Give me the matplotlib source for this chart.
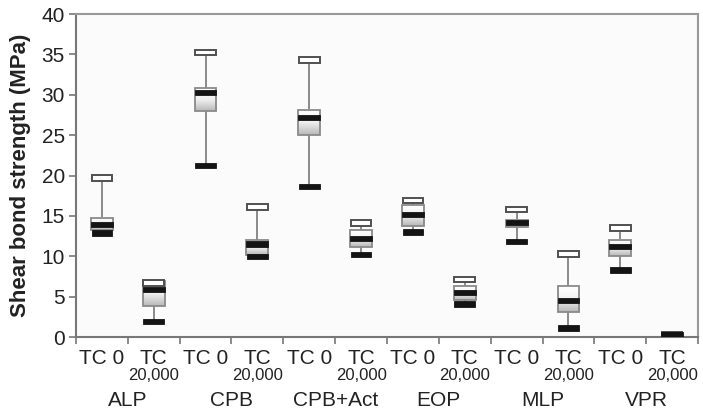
import numpy as np
import matplotlib
matplotlib.use("Agg")
import matplotlib.pyplot as plt
from matplotlib.patches import Rectangle
from matplotlib.colors import LinearSegmentedColormap

plt.rcParams['font.family'] = ['Liberation Sans', 'DejaVu Sans']

groups = ["ALP", "CPB", "CPB+Act", "EOP", "MLP", "VPR"]
cond_top = ["TC 0", "TC"]
cond_sub = ["", "20,000"]

maxima = [19.7, 6.7, 35.2, 16.1, 34.3, 14.1, 16.9, 7.1, 15.8, 10.3, 13.5, 0.3]
q3     = [14.8, 6.9, 30.8, 12.0, 28.1, 13.2, 16.4, 6.3, 14.5, 6.3, 12.0, 0.3]
median = [13.9, 5.9, 30.3, 11.5, 27.2, 12.2, 15.2, 5.5, 14.2, 4.5, 11.2, 0.3]
q1     = [13.3, 3.9, 28.0, 10.2, 25.0, 11.1, 13.8, 4.6, 13.6, 3.1, 10.0, 0.3]
minima = [12.9, 1.9, 21.2, 10.0, 18.6, 10.2, 13.0, 4.1, 11.8, 1.1, 8.3, 0.3]

yticks = [0, 5, 10, 15, 20, 25, 30, 35, 40]

fig = plt.figure(figsize=(7.03, 4.12), dpi=100)
ax = fig.add_axes([0.108, 0.182, 0.885, 0.784])
ax.set_facecolor('#fbfbfb')

n = len(maxima)
xs = np.arange(n)
bw = 0.42   # box width (category units)
bh = 0.33   # half height of bars (MPa)

cmap = LinearSegmentedColormap.from_list('g', ['#ffffff', '#f0f0f0', '#b8b8b8'])
grad = np.linspace(1, 0, 64).reshape(-1, 1)   # row 0 (bottom) = gray

for i, x in enumerate(xs):
    # whiskers
    ax.plot([x, x], [q3[i], maxima[i]], color='#8a8a8a', lw=1.4, zorder=1)
    ax.plot([x, x], [minima[i], q1[i]], color='#8a8a8a', lw=1.4, zorder=1)
    # box with gradient
    if q3[i] - q1[i] > 0.05:
        ax.imshow(grad, extent=[x - bw/2, x + bw/2, q1[i], q3[i]], cmap=cmap,
                  vmin=0, vmax=1, aspect='auto', zorder=2, origin='lower',
                  interpolation='bilinear')
        ax.add_patch(Rectangle((x - bw/2, q1[i]), bw, q3[i] - q1[i], fill=False,
                               edgecolor='#8a8a8a', lw=1.3, zorder=3))
    # cap (max)
    ax.add_patch(Rectangle((x - bw/2 * 0.95, maxima[i] - bh), bw * 0.95, 2 * bh,
                           facecolor='white', edgecolor='#505050', lw=1.4, zorder=4))
    # median
    ax.add_patch(Rectangle((x - bw/2, median[i] - bh), bw, 2 * bh,
                           facecolor='#141414', edgecolor='#141414', lw=0.6, zorder=5))
    # min
    ax.add_patch(Rectangle((x - bw/2 * 0.95, minima[i] - bh), bw * 0.95, 2 * bh,
                           facecolor='#141414', edgecolor='#141414', lw=0.6, zorder=6))

ax.set_xlim(-0.5, n - 0.5)
ax.set_ylim(0, 40)
ax.set_yticks(yticks)
ax.set_yticklabels([str(v) for v in yticks], fontsize=15, color='#222222')
ax.set_xticks(np.arange(-0.5, n, 1.0))
ax.set_xticklabels([])
ax.tick_params(axis='both', direction='out', length=5, width=1.2, color='#777777')
ax.tick_params(axis='y', pad=3)
for s in ax.spines.values():
    s.set_color('#999999')
    s.set_linewidth(1.5)
ax.spines['left'].set_color('#777777')
ax.spines['bottom'].set_color('#777777')

ax.set_ylabel('Shear bond strength (MPa)', fontsize=16, fontweight='bold', color='#222222')
ax.yaxis.set_label_coords(-0.072, 0.5)

px = 0.72  # points per pixel
for i, x in enumerate(xs):
    c = i % 2
    ax.annotate(cond_top[c], xy=(x, 0), xycoords=('data', 'axes fraction'),
                xytext=(0, -12 * px), textcoords='offset points',
                ha='center', va='top', fontsize=15, color='#222222')
    if cond_sub[c]:
        ax.annotate(cond_sub[c], xy=(x, 0), xycoords=('data', 'axes fraction'),
                    xytext=(0, -31 * px), textcoords='offset points',
                    ha='center', va='top', fontsize=12, color='#222222')
for g, name in enumerate(groups):
    ax.annotate(name, xy=(2 * g + 0.5, 0), xycoords=('data', 'axes fraction'),
                xytext=(0, -54 * px), textcoords='offset points',
                ha='center', va='top', fontsize=15, color='#222222')

fig.savefig('out.png', dpi=100, facecolor='white')
